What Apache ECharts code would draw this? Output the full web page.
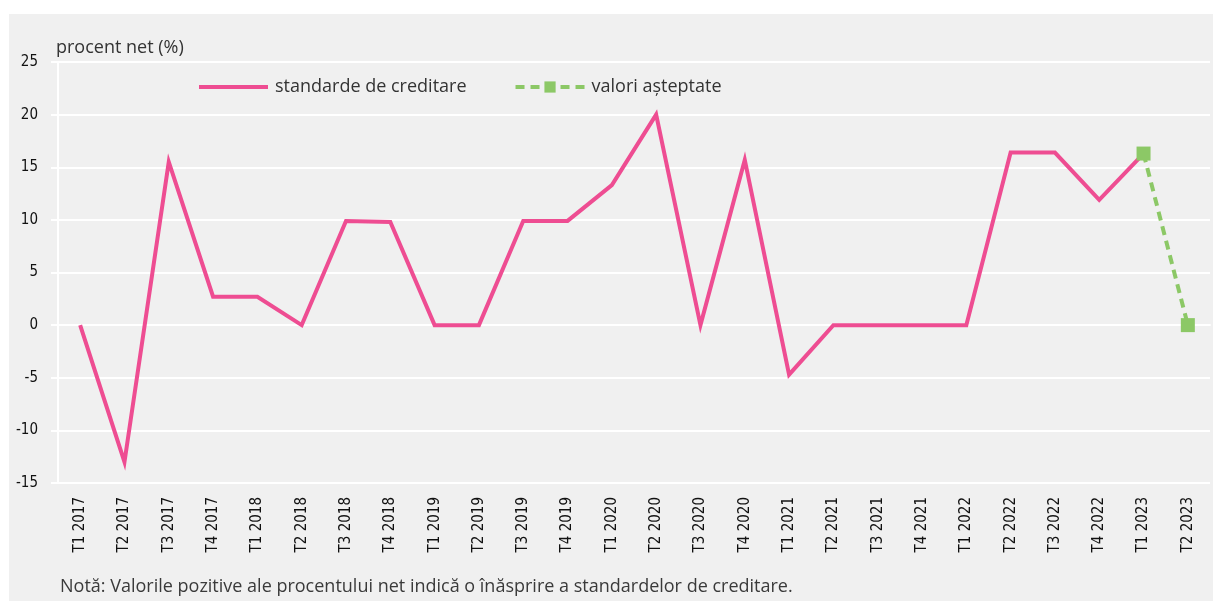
<!DOCTYPE html>
<html>
<head>
<meta charset="utf-8">
<script src="https://cdn.jsdelivr.net/npm/echarts@6/dist/echarts.min.js"></script>
<style>
  html, body { margin: 0; padding: 0; background: #fff; }
  #chart { width: 1213px; height: 601px; }
</style>
</head>
<body>
<div id="chart"></div>
<script>
// trimestre
var categories = ['T1 2017', 'T2 2017', 'T3 2017', 'T4 2017', 'T1 2018', 'T2 2018', 'T3 2018', 'T4 2018',
    'T1 2019', 'T2 2019', 'T3 2019', 'T4 2019', 'T1 2020', 'T2 2020', 'T3 2020', 'T4 2020',
    'T1 2021', 'T2 2021', 'T3 2021', 'T4 2021', 'T1 2022', 'T2 2022', 'T3 2022', 'T4 2022',
    'T1 2023', 'T2 2023'];
var standarde = [0, -13, 15.5, 2.7, 2.7, 0, 9.9, 9.8,
    0, 0, 9.9, 9.9, 13.3, 20, 0, 15.7,
    -4.7, 0, 0, 0, 0, 16.4, 16.4, 11.9,
    16.3, '-'];
var asteptate = ['-', '-', '-', '-', '-', '-', '-', '-',
    '-', '-', '-', '-', '-', '-', '-', '-',
    '-', '-', '-', '-', '-', '-', '-', '-',
    16.3, 0];
var seriesNames = ['standarde de creditare', 'valori așteptate'];

var tickFont = "'Liberation Sans Narrow', 'DejaVu Sans Condensed', sans-serif";
var textFont = "'Open Sans', 'Noto Sans', sans-serif";
var pink = '#ee4d92';
var green = '#8cc866';

var myChart = echarts.init(document.getElementById('chart'));
var option = {
    backgroundColor: '#ffffff',
    animation: false,
    graphic: [{
        type: 'rect',
        left: 9, top: 14,
        shape: { width: 1204, height: 587 },
        style: { fill: '#f0f0f0' },
        z: -10
    }, {
        type: 'text',
        left: 56, top: 39,
        style: { text: 'procent net (%)', fill: '#333', font: '18px ' + textFont }
    }, {
        type: 'text',
        left: 60, top: 578,
        style: {
            text: 'Notă: Valorile pozitive ale procentului net indică o înăsprire a standardelor de creditare.',
            fill: '#3a3a3a', font: '18px ' + textFont
        }
    }],
    legend: {
        left: 199,
        top: 78,
        padding: 0,
        itemWidth: 69,
        itemHeight: 14,
        itemGap: 47,
        textStyle: { fontFamily: textFont, fontSize: 18, color: '#333', padding: [0, 0, 0, 2] },
        data: [{
            name: seriesNames[0],
            icon: 'path://M0,0 L69,0 L69,4 L0,4 Z',
            itemStyle: { color: pink }
        }, {
            name: seriesNames[1],
            lineStyle: { width: 4, type: [9, 6], color: green },
            itemStyle: { color: green }
        }]
    },
    grid: { left: 58, right: 3, top: 62, bottom: 118, containLabel: false },
    xAxis: {
        type: 'category',
        data: categories,
        boundaryGap: true,
        axisLine: { show: true, lineStyle: { color: '#ffffff', width: 2 } },
        axisTick: { show: false },
        axisLabel: {
            rotate: 90, interval: 0, margin: 14,
            fontFamily: tickFont, fontSize: 15, color: '#111'
        },
        splitLine: { show: false }
    },
    yAxis: {
        type: 'value',
        min: -15, max: 25, interval: 5,
        axisLine: { show: true, lineStyle: { color: '#ffffff', width: 2 } },
        axisTick: { show: true, length: 7, lineStyle: { color: '#ffffff', width: 2 } },
        axisLabel: { margin: 20, fontFamily: tickFont, fontSize: 15, color: '#111' },
        splitLine: { show: true, lineStyle: { color: '#ffffff', width: 2 } }
    },
    series: [{
        name: seriesNames[0],
        type: 'line',
        data: standarde,
        symbol: 'none',
        lineStyle: { color: pink, width: 4, join: 'miter' },
        itemStyle: { color: pink },
        z: 2
    }, {
        name: seriesNames[1],
        type: 'line',
        data: asteptate,
        symbol: 'rect',
        symbolSize: 14,
        lineStyle: { color: green, width: 4, type: [9, 6] },
        itemStyle: { color: green },
        z: 3
    }]
};
myChart.setOption(option);
</script>
</body>
</html>
